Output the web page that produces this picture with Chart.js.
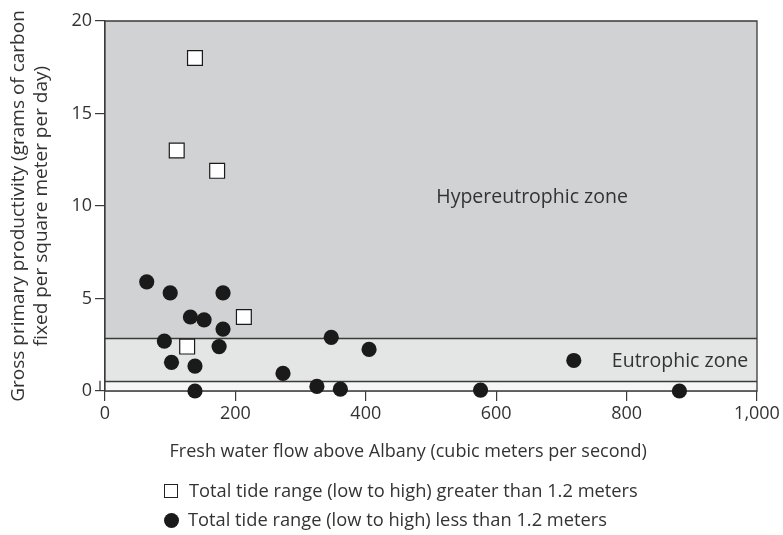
<!DOCTYPE html>
<html>
<head>
<meta charset="utf-8">
<script src="https://cdn.jsdelivr.net/npm/chart.js@4/dist/chart.umd.min.js"></script>
<style>
  html,body{margin:0;padding:0;background:#fff;}
  #wrap{position:relative;width:783px;height:535px;}
  canvas{position:absolute;left:0;top:0;}
  #legend{position:absolute;left:164px;top:475px;font-family:"Open Sans",Lato,sans-serif;font-size:18.3px;color:#333;line-height:29px;}
  .sq{display:inline-block;width:12px;height:12px;border:1px solid #222;background:#fff;margin-right:11px;vertical-align:-1px;}
  .ci{display:inline-block;width:15px;height:15px;border-radius:50%;background:#1a1a1a;margin-right:9px;vertical-align:-2px;}
</style>
</head>
<body>
<div id="wrap">
<canvas id="c" width="783" height="535"></canvas>
<div id="legend"></div>
</div>
<script>
// ---- data ----
const seriesNames = [
  "Total tide range (low to high) greater than 1.2 meters",
  "Total tide range (low to high) less than 1.2 meters"
];
const squaresX = [138, 110, 172, 213, 126];
const squaresY = [18.0, 13.0, 11.9, 4.0, 2.4];
const circlesX = [64, 100, 181, 131, 152, 181, 91, 175, 102, 138, 138, 273, 325, 361, 347, 405, 719, 576, 881];
const circlesY = [5.9, 5.3, 5.3, 4.0, 3.85, 3.35, 2.7, 2.4, 1.55, 1.35, 0.0, 0.95, 0.25, 0.1, 2.9, 2.25, 1.65, 0.05, 0.0];
const xTicks = [0, 200, 400, 600, 800, 1000];
const yTicks = [0, 5, 10, 15, 20];
const zoneLimits = [0, 0.55, 2.85, 20];
const zoneNames = ["", "Eutrophic zone", "Hypereutrophic zone"];
const xTitle = "Fresh water flow above Albany (cubic meters per second)";
const yTitle = ["Gross primary productivity (grams of carbon", "fixed per square meter per day)"];

const FONT = '"Open Sans", Lato, sans-serif';
const TXT = '#333';

function pts(xs, ys){ return xs.map((x,i)=>({x:x, y:ys[i]})); }

const zonePlugin = {
  id:'zones',
  beforeDatasetsDraw(chart){
    const {ctx, chartArea:a, scales:{x, y}} = chart;
    const fills = ['#f6f6f6', '#e4e5e5', '#d1d2d4'];
    ctx.save();
    for (let i=0;i<3;i++){
      const t = y.getPixelForValue(zoneLimits[i+1]);
      const b = y.getPixelForValue(zoneLimits[i]);
      ctx.fillStyle = fills[i];
      ctx.fillRect(a.left, t, a.right-a.left, b-t);
    }
    ctx.strokeStyle = '#3a3a3a';
    ctx.lineWidth = 1.3;
    ctx.beginPath();
    for (let i=1;i<3;i++){
      const yy = Math.round(y.getPixelForValue(zoneLimits[i]))+0.5;
      ctx.moveTo(a.left, yy); ctx.lineTo(a.right, yy);
    }
    ctx.rect(a.left, a.top, a.right-a.left, a.bottom-a.top);
    ctx.stroke();
    // small axis-break mark left of the y axis near zero
    const bx = a.left - 5;
    ctx.beginPath();
    ctx.moveTo(bx, y.getPixelForValue(zoneLimits[1]));
    ctx.lineTo(bx, y.getPixelForValue(0));
    ctx.stroke();
    ctx.fillStyle = TXT;
    ctx.font = '19.5px ' + FONT;
    ctx.textAlign = 'center';
    ctx.textBaseline = 'middle';
    ctx.fillText(zoneNames[2], x.getPixelForValue(655), y.getPixelForValue(10.45));
    ctx.fillText(zoneNames[1], x.getPixelForValue(882), y.getPixelForValue(1.6));
    ctx.restore();
  },
  afterDraw(chart){
    const {ctx, scales:{x}} = chart;
    ctx.save();
    ctx.fillStyle = TXT;
    ctx.font = '18px ' + FONT;
    ctx.textAlign = 'center';
    ctx.textBaseline = 'middle';
    ctx.fillText(xTitle, x.getPixelForValue(465), x.bottom - 9);
    ctx.restore();
  }
};

new Chart(document.getElementById('c'), {
  type:'scatter',
  data:{
    datasets:[
      {label:seriesNames[0], data:pts(squaresX, squaresY), pointStyle:'rect', pointRadius:10.5, pointHoverRadius:10.5,
       backgroundColor:'#ffffff', borderColor:'#1a1a1a', borderWidth:1.2, clip:false},
      {label:seriesNames[1], data:pts(circlesX, circlesY), pointStyle:'circle', pointRadius:7.6, pointHoverRadius:7.6,
       backgroundColor:'#1a1a1a', borderColor:'#1a1a1a', borderWidth:0, clip:false}
    ]
  },
  options:{
    responsive:false,
    animation:false,
    events:[],
    layout:{padding:{top:21, right:26, bottom:74, left:0}},
    plugins:{legend:{display:false}, tooltip:{enabled:false}},
    scales:{
      x:{
        type:'linear', min:0, max:1000,
        afterBuildTicks(s){ s.ticks = xTicks.map(v=>({value:v})); },
        afterFit(s){ s.height = 70; },
        ticks:{color:TXT, font:{family:FONT, size:18}, padding:2, maxRotation:0},
        grid:{drawOnChartArea:false, drawTicks:true, tickLength:10, color:'#3a3a3a', lineWidth:1.2},
        border:{display:true, color:'#3a3a3a', width:1.2},
        title:{display:false, text:xTitle}
      },
      y:{
        type:'linear', min:0, max:20,
        afterBuildTicks(s){ s.ticks = yTicks.map(v=>({value:v})); },
        afterFit(s){ s.width = 105; },
        ticks:{color:TXT, font:{family:FONT, size:18}, padding:3},
        grid:{drawOnChartArea:false, drawTicks:true, tickLength:10, color:'#3a3a3a', lineWidth:1.2},
        border:{display:true, color:'#3a3a3a', width:1.2},
        title:{display:true, text:yTitle, color:TXT, font:{family:FONT, size:19, lineHeight:1.22}, padding:{top:7, bottom:0}}
      }
    }
  },
  plugins:[zonePlugin]
});

document.getElementById('legend').innerHTML =
  '<div><span class="sq"></span>' + seriesNames[0] + '</div>' +
  '<div><span class="ci"></span>' + seriesNames[1] + '</div>';
</script>
</body>
</html>
